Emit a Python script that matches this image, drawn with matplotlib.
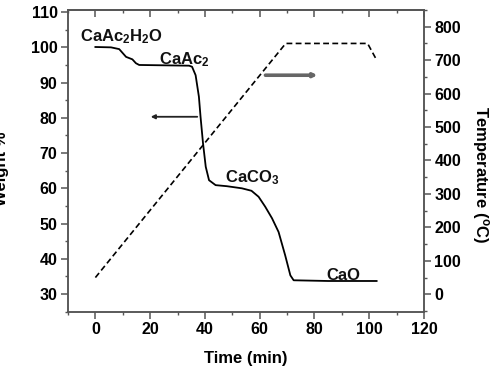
import matplotlib
matplotlib.use("Agg")
import matplotlib.pyplot as plt
from matplotlib.ticker import MultipleLocator

plt.rcParams['font.family'] = ['Liberation Sans', 'DejaVu Sans']
plt.rcParams['font.weight'] = 'bold'
plt.rcParams['mathtext.default'] = 'regular'

# Weight loss curve (time in min, weight %)
time_w = [0, 5.7, 8.7, 11.2, 13.5, 14.8, 16, 25, 34.2, 35.3, 36.6, 37.8, 38.4,
          39.3, 40.3, 41.5, 43.9, 48, 53.5, 57, 59.6, 62, 64.5, 66.9, 69.3,
          71.2, 72.4, 85, 102.7]
weight = [100.1, 100.0, 99.5, 97.3, 96.6, 95.5, 95.0, 94.9, 94.8, 94.5, 92.1,
          86.0, 80.3, 72.8, 66.1, 62.3, 60.9, 60.6, 60.0, 59.3, 57.6, 54.8,
          51.5, 47.6, 41.0, 35.3, 33.9, 33.7, 33.7]

# Temperature program (time in min, temperature in C)
time_T = [0, 69.5, 99.4, 102.4]
temp = [50, 750, 750, 705]

x_ticks = [0, 20, 40, 60, 80, 100, 120]
w_ticks = [30, 40, 50, 60, 70, 80, 90, 100, 110]
T_ticks = [0, 100, 200, 300, 400, 500, 600, 700, 800]

phase_labels = ["CaAc$_2$H$_2$O", "CaAc$_2$", "CaCO$_3$", "CaO"]
phase_x = [-5.8, 23.3, 47.3, 84.2]
phase_y = [101.6, 95.2, 61.6, 34.1]

spine_col = '#555555'

fig = plt.figure(figsize=(4.94, 3.72), dpi=100)
ax = fig.add_axes([68/494, 1-312/372, (424-68)/494, (312-10)/372])
ax2 = ax.twinx()

ax.plot(time_w, weight, color='black', lw=1.3, solid_joinstyle='round')
ax2.plot(time_T, temp, color='black', lw=1.2, linestyle=(0, (3.5, 2)))

ax.set_xlim(-10, 120)
ax.set_ylim(24.9, 110.6)
ax2.set_ylim(-53, 850)

ax.set_xticks(x_ticks)
ax.set_yticks(w_ticks)
ax2.set_yticks(T_ticks)
ax.xaxis.set_minor_locator(MultipleLocator(10))
ax.yaxis.set_minor_locator(MultipleLocator(5))
ax2.yaxis.set_minor_locator(MultipleLocator(50))

tick_fs = 11.5
ax.tick_params(axis='both', which='major', direction='out', length=5, width=1.1,
               color=spine_col, labelsize=tick_fs, pad=2.5)
ax.tick_params(axis='both', which='minor', direction='out', length=2.5, width=1.0,
               color=spine_col)
ax2.tick_params(axis='y', which='major', direction='out', length=5, width=1.1,
                color=spine_col, labelsize=tick_fs, pad=2.5)
ax2.tick_params(axis='y', which='minor', direction='out', length=2.5, width=1.0,
                color=spine_col)

sec = ax.secondary_xaxis('top')
sec.set_xticks(x_ticks)
sec.xaxis.set_minor_locator(MultipleLocator(10))
sec.tick_params(which='major', direction='in', length=5, width=1.1,
                color=spine_col, labeltop=False)
sec.tick_params(which='minor', direction='in', length=2.5, width=1.0,
                color=spine_col)
sec.set_xticklabels([])

for a in (ax, ax2, sec):
    for s in a.spines.values():
        s.set_color(spine_col)
        s.set_linewidth(1.1)

ax.set_xlabel("Time (min)", fontsize=12, fontweight='bold')
ax.xaxis.set_label_coords(0.5, -0.128)
ax.set_ylabel("Weight %", fontsize=12, fontweight='bold')
ax.yaxis.set_label_coords(-0.166, 0.474)
ax2.set_ylabel("Temperature ($^o$C)", fontsize=12, fontweight='bold',
               rotation=270, va='bottom')
ax2.yaxis.set_label_coords(1.13, 0.454)

for lab, xx, yy in zip(phase_labels, phase_x, phase_y):
    ax.text(xx, yy, lab, fontsize=12, fontweight='bold', ha='left',
            va='baseline', color='#111111')

ax.annotate("", xy=(20.2, 80.3), xytext=(37.2, 80.3),
            arrowprops=dict(arrowstyle='-|>', color='#222222', lw=1.3,
                            mutation_scale=6, shrinkA=0, shrinkB=0))
ax2.annotate("", xy=(81.1, 655), xytext=(62.1, 655),
             arrowprops=dict(arrowstyle='-|>', color='#666666', lw=2.6,
                             mutation_scale=5, shrinkA=0, shrinkB=0))

fig.savefig('out.png', dpi=100)
